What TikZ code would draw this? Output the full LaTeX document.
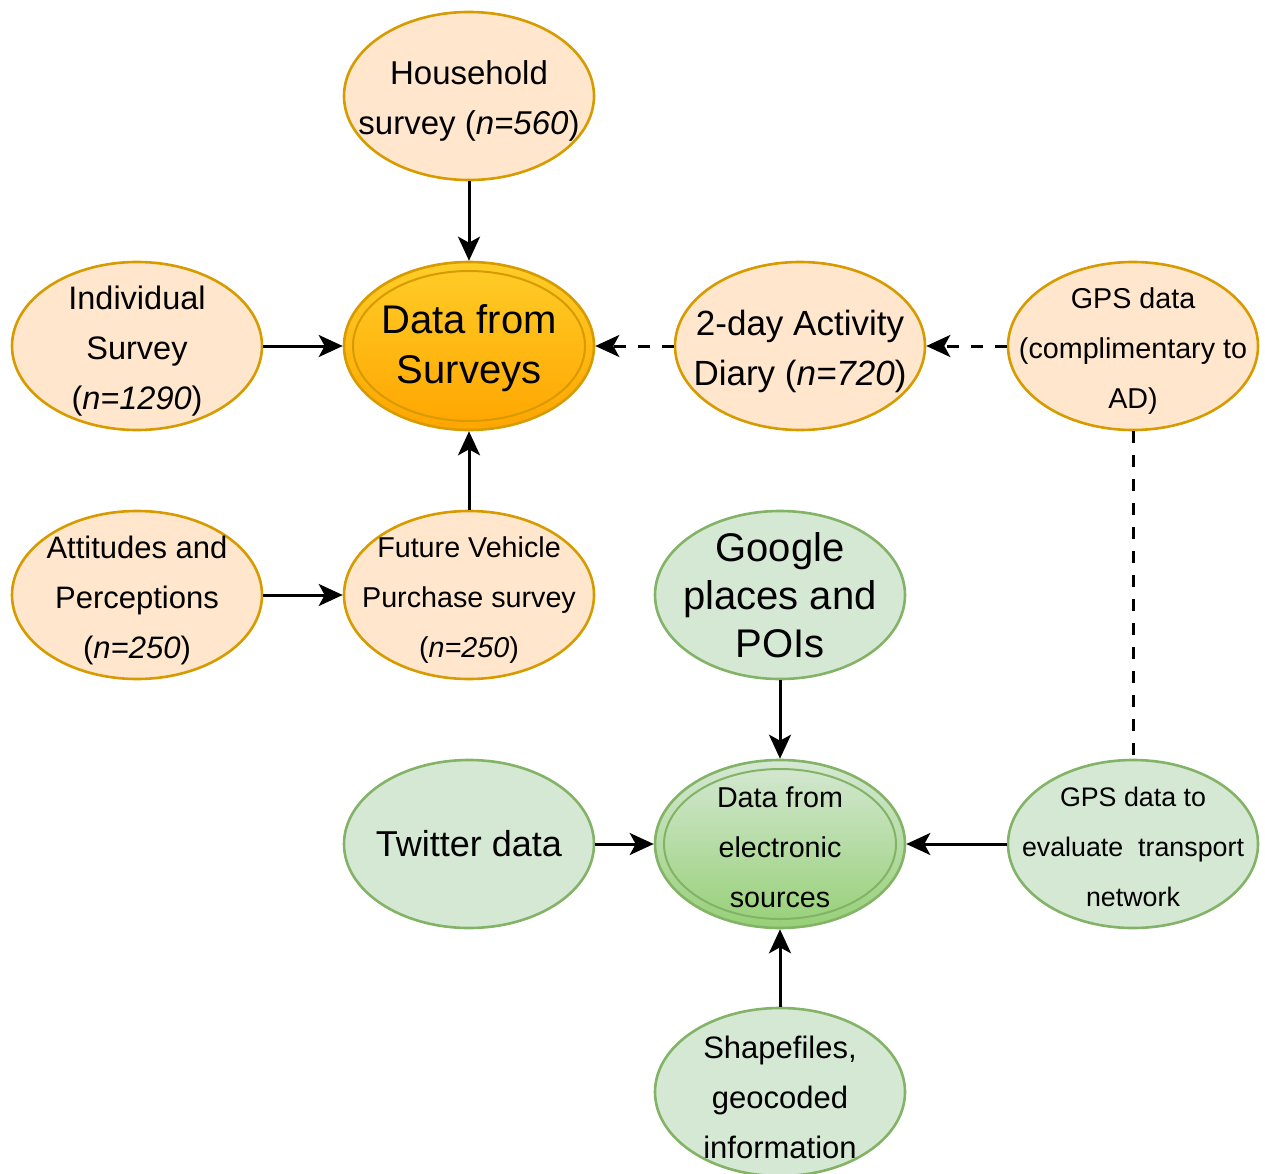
\documentclass[tikz,border=0pt]{standalone}
\usepackage{fontspec}
\setmainfont{Liberation Sans}
\usetikzlibrary{shapes.geometric,arrows.meta}
\definecolor{orfill}{HTML}{FFE6CC}
\definecolor{orline}{HTML}{D79B00}
\definecolor{ortop}{HTML}{FFCD28}
\definecolor{orbot}{HTML}{FFA500}
\definecolor{grfill}{HTML}{D5E8D4}
\definecolor{grline}{HTML}{82B366}
\definecolor{grbot}{HTML}{97D077}
\newcommand{\fsz}[1]{\fontsize{#1}{50}\selectfont}

\begin{document}
\begin{tikzpicture}[x=1pt,y=-1pt,
  bub/.style={ellipse, minimum width=250pt, minimum height=168pt, inner sep=0pt,
              line width=2.6pt},
  lab/.style={align=center, text=black, inner sep=0pt, yshift=-5pt},
  srcbox/.style={bub, draw=orline, fill=orfill},
  hubor/.style={bub, draw=orline, top color=ortop, bottom color=orbot},
  elbox/.style={bub, draw=grline, fill=grfill},
  hubgr/.style={bub, draw=grline, top color=grfill, bottom color=grbot},
  link/.style={line width=3pt, -{Stealth[length=24pt, width=22pt, inset=6pt]}},
  dlink/.style={link, dash pattern=on 12pt off 12pt},
  dline/.style={line width=3pt, dash pattern=on 12pt off 12pt}]

\useasboundingbox (0,0) rectangle (1265,1174);

% survey branch
\node[srcbox, label={[lab, font=\fsz{33}]center:Household\\survey (\textit{n=560})}] (hh) at (469,96) {};
\node[hubor] (surv) at (469,346) {};
\draw[orline, line width=2pt] (surv.center) ellipse [x radius=116pt, y radius=75pt];
\node[lab, yshift=3pt, font=\fsz{40}] at (surv.center) {Data from\\Surveys};
\node[srcbox, label={[lab, font=\fsz{32.5}]center:Individual\\Survey\\(\textit{n=1290})}] (ind) at (137,346) {};
\node[srcbox, label={[lab, font=\fsz{35}]center:2-day Activity\\Diary (\textit{n=720})}] (diary) at (800,346) {};
\node[srcbox, label={[lab, font=\fsz{28.7}]center:GPS data\\(complimentary to\\AD)}] (gpsad) at (1133,346) {};
\node[srcbox, label={[lab, font=\fsz{31}]center:Attitudes and\\Perceptions\\(\textit{n=250})}] (att) at (137,595) {};
\node[srcbox, label={[lab, font=\fsz{28.7}]center:Future Vehicle\\Purchase survey\\(\textit{n=250})}] (fut) at (469,595) {};

% electronic branch
\node[elbox, label={[lab, yshift=5pt, font=\fontsize{40}{48}\selectfont]center:Google\\places and\\POIs}] (goog) at (780,595) {};
\node[hubgr] (elec) at (780,844) {};
\draw[grline, line width=2pt] (elec.center) ellipse [x radius=116pt, y radius=75pt];
\node[lab, yshift=2pt, font=\fsz{28.7}] at (elec.center) {Data from\\electronic\\sources};
\node[elbox, label={[lab, yshift=5pt, font=\fsz{36}]center:Twitter data}] (tw) at (469,844) {};
\node[elbox, label={[lab, yshift=2pt, font=\fsz{26.8}]center:GPS data to\\evaluate\ \ transport\\network}] (gpsnet) at (1133,844) {};
\node[elbox, label={[lab, font=\fsz{31}]center:Shapefiles,\\geocoded\\information}] (shp) at (780,1092) {};

% connectors
\draw[link] (hh) -- (surv);
\draw[link] (ind) -- (surv);
\draw[link] (fut) -- (surv);
\draw[link] (att) -- (fut);
\draw[dlink] (diary) -- (surv);
\draw[dlink] (gpsad) -- (diary);
\draw[dline] (gpsad) -- (gpsnet);
\draw[link] (goog) -- (elec);
\draw[link] (tw) -- (elec);
\draw[link] (gpsnet) -- (elec);
\draw[link] (shp) -- (elec);
\end{tikzpicture}
\end{document}
